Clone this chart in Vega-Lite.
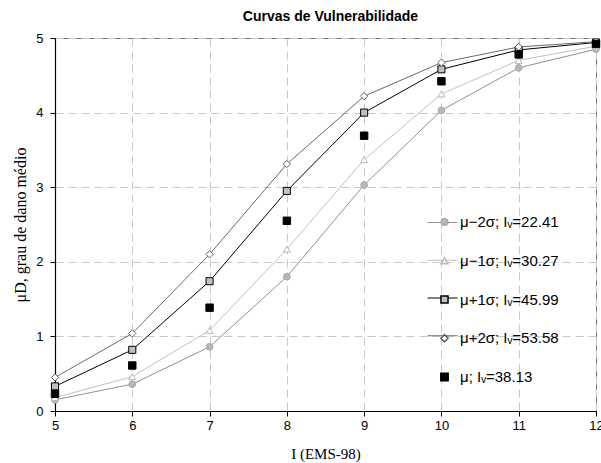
{
  "$schema": "https://vega.github.io/schema/vega-lite/v6.json",
  "width": 541,
  "height": 373,
  "autosize": "none",
  "padding": {"left": 55, "top": 38, "right": 5, "bottom": 52},
  "background": "white",
  "title": {
    "text": "Curvas de Vulnerabilidade",
    "font": "Liberation Sans",
    "fontSize": 14,
    "fontWeight": "bold",
    "color": "#000000",
    "anchor": "middle",
    "offset": 8,
    "dx": 5
  },
  "config": {
    "view": {"stroke": "#707070", "strokeWidth": 1},
    "axis": {
      "labelFont": "Liberation Sans",
      "labelFontSize": 13,
      "labelColor": "#000000",
      "titleFont": "Liberation Serif",
      "titleFontSize": 15,
      "titleFontWeight": "normal",
      "titleColor": "#000000",
      "domainColor": "#000000",
      "domainWidth": 1.2,
      "tickColor": "#000000",
      "tickSize": 5,
      "gridColor": "#c8c8c8",
      "gridDash": [8, 5],
      "gridWidth": 1
    }
  },
  "data": {
    "values": [
      {"series": "μ−2σ; Iᵥ=22.41", "x": 5, "y": 0.15},
      {"series": "μ−2σ; Iᵥ=22.41", "x": 6, "y": 0.36},
      {"series": "μ−2σ; Iᵥ=22.41", "x": 7, "y": 0.86},
      {"series": "μ−2σ; Iᵥ=22.41", "x": 8, "y": 1.8},
      {"series": "μ−2σ; Iᵥ=22.41", "x": 9, "y": 3.03},
      {"series": "μ−2σ; Iᵥ=22.41", "x": 10, "y": 4.03},
      {"series": "μ−2σ; Iᵥ=22.41", "x": 11, "y": 4.6},
      {"series": "μ−2σ; Iᵥ=22.41", "x": 12, "y": 4.85},
      {"series": "μ−1σ; Iᵥ=30.27", "x": 5, "y": 0.18},
      {"series": "μ−1σ; Iᵥ=30.27", "x": 6, "y": 0.46},
      {"series": "μ−1σ; Iᵥ=30.27", "x": 7, "y": 1.08},
      {"series": "μ−1σ; Iᵥ=30.27", "x": 8, "y": 2.17},
      {"series": "μ−1σ; Iᵥ=30.27", "x": 9, "y": 3.37},
      {"series": "μ−1σ; Iᵥ=30.27", "x": 10, "y": 4.25},
      {"series": "μ−1σ; Iᵥ=30.27", "x": 11, "y": 4.7},
      {"series": "μ−1σ; Iᵥ=30.27", "x": 12, "y": 4.89},
      {"series": "μ+1σ; Iᵥ=45.99", "x": 5, "y": 0.33},
      {"series": "μ+1σ; Iᵥ=45.99", "x": 6, "y": 0.82},
      {"series": "μ+1σ; Iᵥ=45.99", "x": 7, "y": 1.74},
      {"series": "μ+1σ; Iᵥ=45.99", "x": 8, "y": 2.95},
      {"series": "μ+1σ; Iᵥ=45.99", "x": 9, "y": 4.0},
      {"series": "μ+1σ; Iᵥ=45.99", "x": 10, "y": 4.58},
      {"series": "μ+1σ; Iᵥ=45.99", "x": 11, "y": 4.84},
      {"series": "μ+1σ; Iᵥ=45.99", "x": 12, "y": 4.94},
      {"series": "μ+2σ; Iᵥ=53.58", "x": 5, "y": 0.45},
      {"series": "μ+2σ; Iᵥ=53.58", "x": 6, "y": 1.04},
      {"series": "μ+2σ; Iᵥ=53.58", "x": 7, "y": 2.1},
      {"series": "μ+2σ; Iᵥ=53.58", "x": 8, "y": 3.31},
      {"series": "μ+2σ; Iᵥ=53.58", "x": 9, "y": 4.22},
      {"series": "μ+2σ; Iᵥ=53.58", "x": 10, "y": 4.67},
      {"series": "μ+2σ; Iᵥ=53.58", "x": 11, "y": 4.88},
      {"series": "μ+2σ; Iᵥ=53.58", "x": 12, "y": 4.95},
      {"series": "μ; Iᵥ=38.13", "x": 5, "y": 0.23},
      {"series": "μ; Iᵥ=38.13", "x": 6, "y": 0.61},
      {"series": "μ; Iᵥ=38.13", "x": 7, "y": 1.385},
      {"series": "μ; Iᵥ=38.13", "x": 8, "y": 2.55},
      {"series": "μ; Iᵥ=38.13", "x": 9, "y": 3.69},
      {"series": "μ; Iᵥ=38.13", "x": 10, "y": 4.42},
      {"series": "μ; Iᵥ=38.13", "x": 11, "y": 4.78},
      {"series": "μ; Iᵥ=38.13", "x": 12, "y": 4.92}
    ]
  },
  "encoding": {
    "x": {
      "field": "x",
      "type": "quantitative",
      "scale": {"domain": [5, 12], "nice": false, "zero": false},
      "axis": {
        "title": "I (EMS-98)",
        "values": [5, 6, 7, 8, 9, 10, 11, 12],
        "format": "d",
        "labelPadding": 3,
        "titlePadding": 14,
        "labelFlush": false
      }
    },
    "y": {
      "field": "y",
      "type": "quantitative",
      "scale": {"domain": [0, 5], "nice": false},
      "axis": {
        "title": "μD, grau de dano médio",
        "titleFontSize": 16,
        "values": [0, 1, 2, 3, 4, 5],
        "format": "d",
        "labelPadding": 7,
        "titlePadding": 7,
        "labelFlush": false
      }
    }
  },
  "layer": [
    {
      "transform": [{"filter": "datum.series !== 'μ; Iᵥ=38.13'"}],
      "mark": {"type": "line", "clip": false},
      "encoding": {
        "color": {
          "field": "series",
          "type": "nominal",
          "scale": {
            "domain": ["μ−2σ; Iᵥ=22.41", "μ−1σ; Iᵥ=30.27", "μ+1σ; Iᵥ=45.99", "μ+2σ; Iᵥ=53.58"],
            "range": ["#909090", "#c0c0c0", "#000000", "#6a6a6a"]
          },
          "legend": {
            "orient": "none",
            "legendX": 372,
            "legendY": 169,
            "title": null,
            "padding": 0,
            "symbolType": "stroke",
            "symbolSize": 900,
            "symbolStrokeWidth": 1,
            "labelFont": "Liberation Sans",
            "labelFontSize": 14,
            "labelOpacity": 0,
            "labelOffset": 4,
            "rowPadding": 14.75
          }
        },
        "strokeWidth": {
          "field": "series",
          "type": "nominal",
          "scale": {
            "domain": ["μ−2σ; Iᵥ=22.41", "μ−1σ; Iᵥ=30.27", "μ+1σ; Iᵥ=45.99", "μ+2σ; Iᵥ=53.58"],
            "range": [1, 1, 1.4, 1]
          },
          "legend": null
        }
      }
    },
    {
      "mark": {"type": "point", "filled": false, "opacity": 1, "strokeWidth": 1, "clip": false},
      "encoding": {
        "shape": {
          "field": "series",
          "type": "nominal",
          "scale": {
            "domain": ["μ−2σ; Iᵥ=22.41", "μ−1σ; Iᵥ=30.27", "μ+1σ; Iᵥ=45.99", "μ+2σ; Iᵥ=53.58", "μ; Iᵥ=38.13"],
            "range": ["circle", "triangle-up", "square", "diamond", "square"]
          },
          "legend": {
            "orient": "none",
            "legendX": 382,
            "legendY": 176.5,
            "title": null,
            "padding": 0,
            "labelFont": "Liberation Sans",
            "labelFontSize": 15,
            "labelColor": "#000000",
            "labelOffset": 8,
            "rowPadding": 22.75
          }
        },
        "fill": {
          "field": "series",
          "type": "nominal",
          "scale": {
            "domain": ["μ−2σ; Iᵥ=22.41", "μ−1σ; Iᵥ=30.27", "μ+1σ; Iᵥ=45.99", "μ+2σ; Iᵥ=53.58", "μ; Iᵥ=38.13"],
            "range": ["#b8b8b8", "#ffffff", "#c0c0c0", "#ffffff", "#000000"]
          },
          "legend": {
            "orient": "none",
            "legendX": 382,
            "legendY": 176.5,
            "title": null,
            "padding": 0,
            "labelFont": "Liberation Sans",
            "labelFontSize": 15,
            "labelColor": "#000000",
            "labelOffset": 8,
            "rowPadding": 22.75
          }
        },
        "stroke": {
          "field": "series",
          "type": "nominal",
          "scale": {
            "domain": ["μ−2σ; Iᵥ=22.41", "μ−1σ; Iᵥ=30.27", "μ+1σ; Iᵥ=45.99", "μ+2σ; Iᵥ=53.58", "μ; Iᵥ=38.13"],
            "range": ["#a8a8a8", "#b8b8b8", "#000000", "#606060", "#000000"]
          },
          "legend": {
            "orient": "none",
            "legendX": 382,
            "legendY": 176.5,
            "title": null,
            "padding": 0,
            "labelFont": "Liberation Sans",
            "labelFontSize": 15,
            "labelColor": "#000000",
            "labelOffset": 8,
            "rowPadding": 22.75
          }
        },
        "size": {
          "field": "series",
          "type": "nominal",
          "scale": {
            "domain": ["μ−2σ; Iᵥ=22.41", "μ−1σ; Iᵥ=30.27", "μ+1σ; Iᵥ=45.99", "μ+2σ; Iᵥ=53.58", "μ; Iᵥ=38.13"],
            "range": [45, 55, 55, 45, 50]
          },
          "legend": {
            "orient": "none",
            "legendX": 382,
            "legendY": 176.5,
            "title": null,
            "padding": 0,
            "labelFont": "Liberation Sans",
            "labelFontSize": 15,
            "labelColor": "#000000",
            "labelOffset": 8,
            "rowPadding": 22.75
          }
        }
      }
    }
  ]
}
